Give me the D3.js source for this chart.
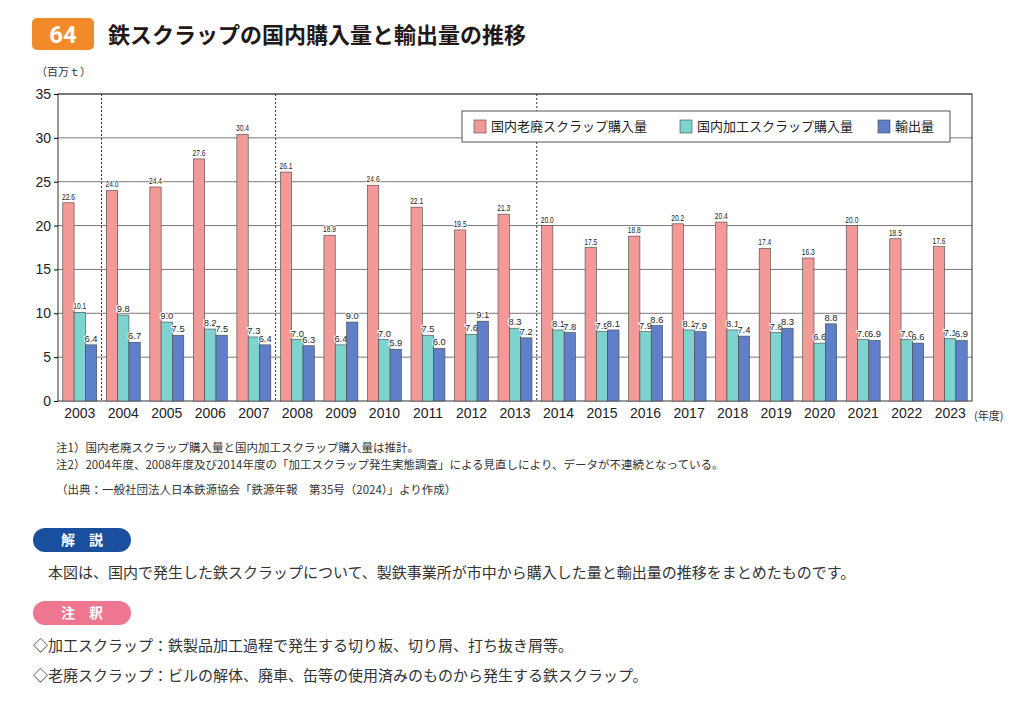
<!DOCTYPE html>
<html><head><meta charset="utf-8">
<script src="https://cdn.jsdelivr.net/npm/d3@7"></script>
<style>
body{margin:0;background:#fff;font-family:"Noto Sans CJK JP","Noto Sans",sans-serif;}
</style></head>
<body>
<script>
const years = ["2003","2004","2005","2006","2007","2008","2009","2010","2011","2012","2013","2014","2015","2016","2017","2018","2019","2020","2021","2022","2023"];
const rouhai = [22.6,24.0,24.4,27.6,30.4,26.1,18.9,24.6,22.1,19.5,21.3,20.0,17.5,18.8,20.2,20.4,17.4,16.3,20.0,18.5,17.6];
const kakou = [10.1,9.8,9.0,8.2,7.3,7.0,6.4,7.0,7.5,7.6,8.3,8.1,7.9,7.9,8.1,8.1,7.8,6.6,7.0,7.0,7.1];
const yushutsu = [6.4,6.7,7.5,7.5,6.4,6.3,9.0,5.9,6.0,9.1,7.2,7.8,8.1,8.6,7.9,7.4,8.3,8.8,6.9,6.6,6.9];
const seriesNames = ["国内老廃スクラップ購入量","国内加工スクラップ購入量","輸出量"];
const colors = ["#f39a98","#7fd3cf","#5f80c8"];
const yTicks = [0,5,10,15,20,25,30,35];
const breakAfter = ["2003","2007","2013"];

const W=1024,H=713;
const svg=d3.select("body").append("svg").attr("width",W).attr("height",H);
const L=58,R=972,T=94,B=401;
const x=d3.scaleBand().domain(years).range([L,R]).paddingInner(0.22).paddingOuter(0.11);
const x0=d3.scaleBand().domain(years).range([L,R]);
const y=d3.scaleLinear().domain([0,35]).range([B,T]);
const sub=d3.scaleBand().domain([0,1,2]).range([0,x.bandwidth()]);

// header
svg.append("rect").attr("x",32).attr("y",18).attr("width",62).attr("height",32).attr("rx",5).attr("fill","#f28a2a");
svg.append("text").attr("x",63).attr("y",43).attr("text-anchor","middle").attr("fill","#fff").attr("font-size",24).attr("font-weight","bold").attr("font-family","Roboto,sans-serif").text("64");
svg.append("text").attr("x",108).attr("y",43).attr("fill","#231815").attr("font-size",22).attr("font-weight","bold").text("鉄スクラップの国内購入量と輸出量の推移");
svg.append("text").attr("x",36).attr("y",76).attr("font-size",11).attr("fill","#333").text("（百万ｔ）");

// grid
svg.append("g").selectAll("line").data(yTicks.filter(d=>d>0)).join("line")
  .attr("x1",L).attr("x2",R).attr("y1",d=>y(d)).attr("y2",d=>y(d)).attr("stroke","#555").attr("stroke-width",0.8);
svg.append("g").selectAll("line").data(breakAfter).join("line")
  .attr("x1",d=>x0(d)+x0.bandwidth()).attr("x2",d=>x0(d)+x0.bandwidth())
  .attr("y1",T).attr("y2",B).attr("stroke","#333").attr("stroke-dasharray","2,2");
svg.append("rect").attr("x",L).attr("y",T).attr("width",R-L).attr("height",B-T).attr("fill","none").attr("stroke","#333");

const yAxis=svg.append("g").attr("transform",`translate(${L},0)`).call(d3.axisLeft(y).tickValues(yTicks).tickSize(4));
yAxis.select(".domain").remove();
yAxis.selectAll("text").attr("font-size",14).attr("font-family","Liberation Sans Narrow,Arial,sans-serif").attr("fill","#222");
const xAxis=svg.append("g").attr("transform",`translate(0,${B})`).call(d3.axisBottom(x0).tickSize(0).tickPadding(7));
xAxis.select(".domain").remove();
xAxis.selectAll("text").attr("font-size",14).attr("font-family","Liberation Sans Narrow,Arial,sans-serif").attr("fill","#222");
svg.append("text").attr("x",974).attr("y",420).attr("font-size",11).attr("fill","#333").text("(年度)");

// bars
const all=[rouhai,kakou,yushutsu];
all.forEach((arr,s)=>{
  const g=svg.append("g");
  g.selectAll("rect").data(arr).join("rect")
    .attr("x",(d,i)=>x(years[i])+sub(s)).attr("width",sub.bandwidth())
    .attr("y",d=>y(d)).attr("height",d=>B-y(d))
    .attr("fill",colors[s]).attr("stroke","#444").attr("stroke-width",0.6);
  g.selectAll("text").data(arr).join("text")
    .attr("x",(d,i)=>x(years[i])+sub(s)+sub.bandwidth()/2).attr("y",d=>y(d)-3)
    .attr("text-anchor","middle").attr("font-size",9).attr("textLength",13).attr("lengthAdjust","spacingAndGlyphs")
    .attr("font-family","Liberation Sans Narrow,Arial,sans-serif")
    .attr("fill","#222").attr("stroke","#fff").attr("stroke-width",2).attr("paint-order","stroke")
    .text(d=>d.toFixed(1));
});

// legend
const lg=svg.append("g");
lg.append("rect").attr("x",462).attr("y",111).attr("width",488).attr("height",31).attr("fill","#fff").attr("stroke","#555");
const lx=[474,680,878];
seriesNames.forEach((n,i)=>{
  lg.append("rect").attr("x",lx[i]).attr("y",120).attr("width",12).attr("height",13).attr("fill",colors[i]).attr("stroke","#444").attr("stroke-width",0.6);
  lg.append("text").attr("x",lx[i]+17).attr("y",131).attr("font-size",13).attr("fill","#222").text(n);
});

// notes
const notes=[[56,452,"注1）国内老廃スクラップ購入量と国内加工スクラップ購入量は推計。"],
 [56,469,"注2）2004年度、2008年度及び2014年度の「加工スクラップ発生実態調査」による見直しにより、データが不連続となっている。"],
 [56,494,"（出典：一般社団法人日本鉄源協会「鉄源年報　第35号（2024）」より作成）"]];
notes.forEach(n=>svg.append("text").attr("x",n[0]).attr("y",n[1]).attr("font-size",11.5).attr("fill","#333").text(n[2]));

// pills
function pill(yy,col,txt){
  svg.append("rect").attr("x",33).attr("y",yy).attr("width",98).attr("height",24).attr("rx",12).attr("fill",col);
  svg.append("text").attr("x",82).attr("y",yy+17).attr("text-anchor","middle").attr("fill","#fff").attr("font-size",14).attr("font-weight","bold").text(txt);
}
pill(528,"#1a4fa0","解　説");
pill(601,"#ef7690","注　釈");
svg.append("text").attr("x",48).attr("y",578).attr("font-size",15).attr("fill","#333").text("本図は、国内で発生した鉄スクラップについて、製鉄事業所が市中から購入した量と輸出量の推移をまとめたものです。");
svg.append("text").attr("x",33).attr("y",651).attr("font-size",15).attr("fill","#333").text("◇加工スクラップ：鉄製品加工過程で発生する切り板、切り屑、打ち抜き屑等。");
svg.append("text").attr("x",33).attr("y",681).attr("font-size",15).attr("fill","#333").text("◇老廃スクラップ：ビルの解体、廃車、缶等の使用済みのものから発生する鉄スクラップ。");
</script>
</body></html>
